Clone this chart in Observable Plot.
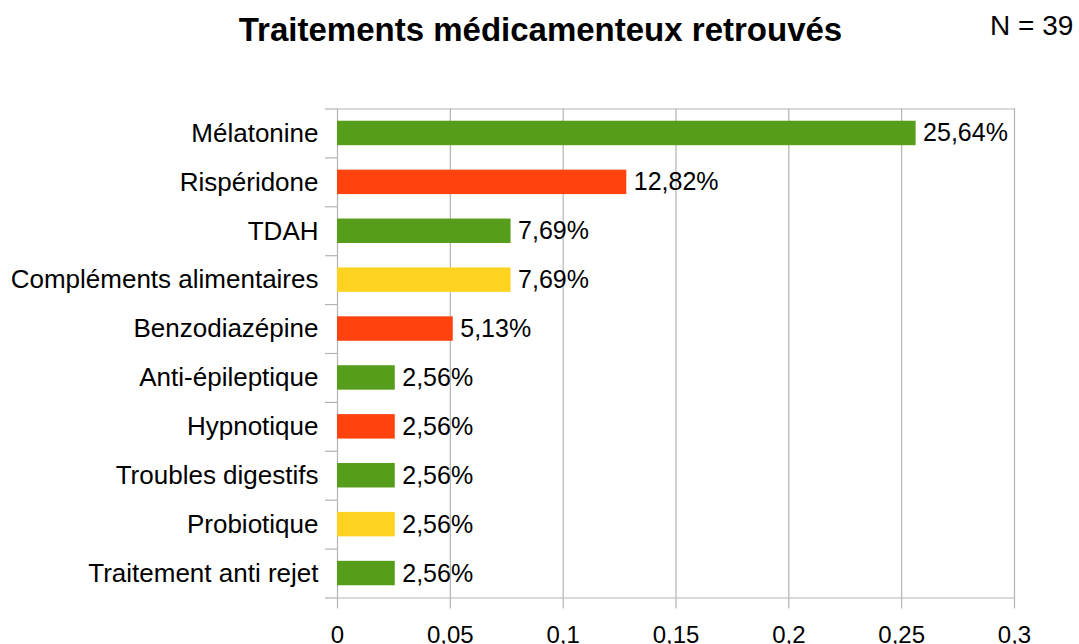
<!DOCTYPE html>
<html>
<head>
<meta charset="utf-8">
<script src="https://cdn.jsdelivr.net/npm/d3@7"></script>
<script src="https://cdn.jsdelivr.net/npm/@observablehq/plot@0.6"></script>
<style>
  body { margin: 0; background: #fff; font-family: "Liberation Sans", Arial, sans-serif; }
  #wrap { position: relative; width: 1079px; height: 644px; }
  #title { position: absolute; left: 0; width: 1081px; top: 11px; text-align: center; font-weight: bold; font-size: 33px; color: #000; line-height: normal; }
  #n { position: absolute; left: 990px; top: 10px; font-size: 28px; color: #000; line-height: normal; }
  #chart { position: absolute; left: 0; top: 0; }
</style>
</head>
<body>
<div id="wrap">
  <div id="chart"></div>
  <div id="title">Traitements médicamenteux retrouvés</div>
  <div id="n">N = 39</div>
</div>
<script>
const categories = ["Mélatonine", "Rispéridone", "TDAH", "Compléments alimentaires", "Benzodiazépine", "Anti-épileptique", "Hypnotique", "Troubles digestifs", "Probiotique", "Traitement anti rejet"];
const values = [0.2564, 0.1282, 0.0769, 0.0769, 0.0513, 0.0256, 0.0256, 0.0256, 0.0256, 0.0256];
const labels = ["25,64%", "12,82%", "7,69%", "7,69%", "5,13%", "2,56%", "2,56%", "2,56%", "2,56%", "2,56%"];
const groups = ["g", "r", "g", "y", "r", "g", "r", "g", "y", "g"];
const xTicks = [0, 0.05, 0.1, 0.15, 0.2, 0.25, 0.3];
const xTickLabels = ["0", "0,05", "0,1", "0,15", "0,2", "0,25", "0,3"];

const data = categories.map((c, i) => ({cat: c, v: values[i], label: labels[i], g: groups[i]}));

const H = 644, MT = 108.5, MB = 46.5;
const halfStep = (H - MT - MB) / categories.length / 2;
const grid = "#b3b3b3";
const font = "'Liberation Sans', Arial, sans-serif";

const chart = Plot.plot({
  width: 1079,
  height: H,
  marginTop: MT,
  marginBottom: MB,
  marginLeft: 337,
  marginRight: 65,
  style: {fontFamily: font, background: "transparent"},
  x: {domain: [0, 0.3], ticks: xTicks, label: null},
  y: {domain: categories, paddingInner: 0.5, paddingOuter: 0.25, round: false, label: null},
  color: {domain: ["g", "r", "y"], range: ["#579d1c", "#ff420e", "#ffd320"]},
  marks: [
    Plot.gridX(xTicks, {stroke: grid, strokeOpacity: 1, strokeWidth: 1.2}),
    Plot.barX(data, {x: "v", y: "cat", fill: "g"}),
    Plot.text(data, {x: "v", y: "cat", text: "label", textAnchor: "start", dx: 7, fontSize: 25, fill: "#000"}),
    Plot.axisX({ticks: xTicks, tickSize: 11, tickPadding: 16.5, fontSize: 24, stroke: grid, strokeWidth: 1.2, strokeOpacity: 1, tickFormat: (d) => xTickLabels[xTicks.indexOf(d)], color: "#000"}),
    Plot.axisY({tickSize: 0, tickPadding: 19, fontSize: 26, color: "#000"}),
    Plot.ruleY(categories, {y: (d) => d, x1: 0, x2: 0, insetLeft: -12, dy: halfStep, stroke: grid, strokeWidth: 1.2}),
    Plot.ruleY(categories.slice(0, 1), {y: (d) => d, x1: 0, x2: 0, insetLeft: -12, dy: -halfStep, stroke: grid, strokeWidth: 1.2}),
    Plot.frame({anchor: "top", stroke: grid, strokeWidth: 1.2}),
    Plot.frame({anchor: "bottom", stroke: grid, strokeWidth: 1.2})
  ]
});
document.getElementById("chart").appendChild(chart);
</script>
</body>
</html>
